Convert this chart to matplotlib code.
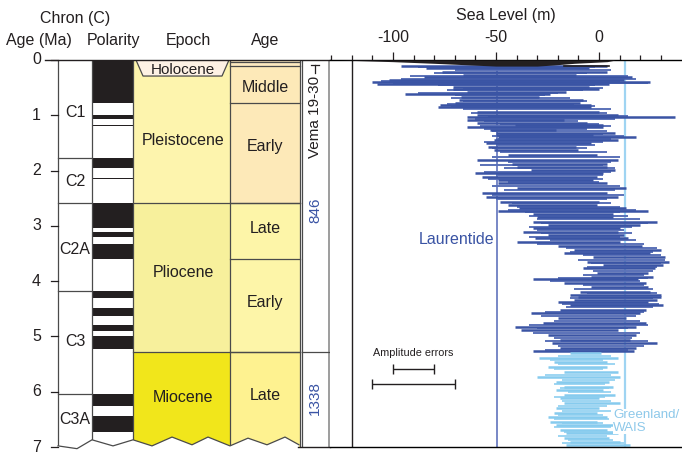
import matplotlib

matplotlib.use("Agg")
import matplotlib.pyplot as plt  # noqa: E402
from matplotlib.ticker import FixedLocator  # noqa: E402

plt.rcParams.update({"font.family": ["Liberation Sans", "DejaVu Sans"],
                     "axes.unicode_minus": False})

W, H = 682, 454
TXT = "#231f20"
LINE = "#4a4a4a"

# ---- geologic time scale -------------------------------------------------
chron_names = ["C1", "C2", "C2A", "C3", "C3A"]
chron_bounds = [1.778, 2.581, 4.187, 6.033]
chron_label_age = [0.95, 2.2, 3.42, 5.1, 6.5]

pol_top = [0.0, 0.988, 1.173, 1.778, 2.128, 2.581, 3.116, 3.330,
           4.187, 4.493, 4.799, 4.997, 6.033, 6.436]
pol_base = [0.781, 1.072, 1.185, 1.945, 2.148, 3.032, 3.207, 3.596,
            4.300, 4.631, 4.896, 5.235, 6.252, 6.733]

epoch_names = ["Pleistocene", "Pliocene", "Miocene"]
epoch_top = [0.0, 2.588, 5.28]
epoch_base = [2.588, 5.28, 7.0]
epoch_colors = ["#fdf4ad", "#f7f09c", "#f1e61b"]
epoch_label_age = [1.45, 3.85, 6.1]

stage_names = ["", "Middle", "Early", "Late", "Early", "Late"]
stage_top = [0.0, 0.1, 0.781, 2.588, 3.6, 5.28]
stage_base = [0.1, 0.781, 2.588, 3.6, 5.28, 7.0]
stage_colors = ["#fdeac0", "#fde9b8", "#fde9b8", "#fdf5a8", "#fdf5a8", "#fef290"]
stage_label_age = [0.0, 0.5, 1.57, 3.04, 4.38, 6.06]

# broken bottom edge of the columns (x in px, age)
zig_x = [58, 77, 92, 113, 133, 152, 172, 192, 208, 230, 248, 267, 285, 299]
zig_age = [6.98, 7.03, 6.87, 6.98, 6.87, 6.98, 6.82, 6.96, 6.82, 6.98, 6.84, 6.96, 6.82, 6.96]

# ---- sea level ranges (m) ------------------------------------------------
laur_age = [0.108, 0.150, 0.212, 0.271, 0.313, 0.362, 0.392, 0.434, 0.483, 0.530,
            0.573, 0.615, 0.664, 0.723, 0.772, 0.814, 0.855, 0.935, 0.995, 1.036,
            1.085, 1.134, 1.175, 1.217, 1.266, 1.315, 1.356, 1.398, 1.447, 1.506,
            1.568, 1.627, 1.718, 1.808, 1.881, 1.929, 1.989, 2.049, 2.121, 2.170,
            2.230, 2.320, 2.400, 2.472, 2.562, 2.622, 2.682, 2.725, 2.785, 2.844,
            2.924, 2.984, 3.043, 3.105, 3.165, 3.224, 3.286, 3.363, 3.436, 3.495,
            3.568, 3.647, 3.707, 3.767, 3.857, 3.919, 3.966, 4.038, 4.100, 4.190,
            4.250, 4.280, 4.340, 4.380, 4.430, 4.521, 4.580, 4.671, 4.761, 4.823,
            4.882, 4.973, 5.063, 5.123, 5.213, 5.262]
laur_lo = [-96, -84, -76, -66, -85, -102, -110, -108, -71, -71,
           -64, -94, -67, -68, -70, -77, -78, -59, -59, -64,
           -64, -59, -41, -64, -53, -50, -50, -49, -51, -55,
           -54, -51, -44, -59, -42, -40, -33, -60, -57, -49,
           -49, -40, -57, -55, -48, -44, -39, -49, -32, -30,
           -32, -25, -32, -37, -25, -31, -40, -20, -12, -17,
           -3, -6, 2, -8, -1, -4, -32, -17, -4, -9,
           -14, -10, -12, -20, -14, -19, -33, -20, -27, -41,
           -38, -25, -19, -23, -19, -32]
laur_hi = [4, -5, 4, -11, 16, 12, 25, 5, -5, 0,
           -16, -24, -29, -8, -9, -4, -4, 0, 9, 37,
           -17, -6, 2, 2, -21, 8, -3, 18, 9, -4,
           -11, -10, -1, 9, 4, 4, 8, 2, -1, -3,
           4, 13, 4, 9, 0, -1, 13, 24, 7, 7,
           28, 20, 10, 9, 12, 14, 10, 21, 30, 25,
           32, 34, 31, 27, 24, 26, 19, 23, 24, 25,
           30, 30, 28, 24, 31, 23, 20, 13, 23, 18,
           9, 18, 15, 28, 18, 17]

# fainter in-between records
laur2_age = [0.13, 0.18, 0.24, 0.29, 0.34, 0.375, 0.41, 0.455, 0.505, 0.55,
             0.595, 0.64, 0.69, 0.745, 0.79, 0.835, 0.895, 0.965, 1.015, 1.06,
             1.11, 1.155, 1.195, 1.24, 1.29, 1.335, 1.375, 1.42, 1.475, 1.535,
             1.60, 1.67, 1.76, 1.845, 1.905, 1.955, 2.02, 2.085, 2.145, 2.20,
             2.275, 2.36, 2.435, 2.515, 2.59, 2.65, 2.705, 2.755, 2.815, 2.885,
             2.955, 3.015, 3.075, 3.135, 3.195, 3.255, 3.325, 3.40, 3.465, 3.53,
             3.61, 3.677, 3.737, 3.81, 3.888, 3.94, 4.0, 4.07, 4.145, 4.22,
             4.31, 4.405, 4.475, 4.55, 4.625, 4.715, 4.79, 4.85, 4.93, 5.02,
             5.09, 5.17, 5.24]
laur2_lo = [-88, -70, -80, -92, -96, -106, -100, -78, -66, -74,
            -88, -70, -72, -66, -74, -72, -66, -62, -54, -60,
            -56, -48, -58, -56, -52, -48, -52, -50, -56, -50,
            -52, -48, -52, -44, -58, -46, -56, -50, -54, -44,
            -52, -46, -52, -50, -42, -40, -44, -36, -34, -30,
            -28, -34, -30, -28, -34, -24, -30, -16, -14, -8,
            -10, -4, -6, -3, -8, -20, -24, -8, -12, -6,
            -14, -18, -16, -26, -28, -22, -34, -30, -32, -22,
            -26, -20, -26]
laur2_hi = [-2, 6, -6, 14, 18, 10, 24, -2, 2, -8,
            -20, -26, -14, -6, -12, -2, 6, 4, 14, 8,
            -10, 0, 6, -6, 4, 2, 12, 6, 2, -2,
            -6, 4, 10, 6, 2, 8, 6, 2, 2, 0,
            10, 8, 12, 4, 6, 10, 18, 10, 14, 20,
            24, 16, 12, 16, 10, 18, 22, 28, 26, 30,
            32, 30, 28, 26, 22, 24, 20, 22, 26, 28,
            26, 29, 26, 22, 18, 20, 24, 14, 20, 16,
            24, 22, 14]

gw_age = [5.304, 5.394, 5.456, 5.546, 5.637, 5.738, 5.817, 5.908, 5.967, 6.058,
          6.118, 6.208, 6.298, 6.389, 6.456, 6.541, 6.600, 6.691, 6.750, 6.841,
          6.903, 6.962]
gw_lo = [-14, -29, -22, -25, -17, -30, -21, -17, -21, -17,
         -19, -17, -21, -22, -25, -24, -21, -19, -16, -17,
         -14, -16]
gw_hi = [1, 9, 4, 4, 9, 10, 5, 7, 2, 8,
         0, 10, 0, -1, 4, -1, 7, 4, 9, 5,
         10, 15]

gw2_age = [5.35, 5.425, 5.50, 5.59, 5.69, 5.78, 5.86, 5.94, 6.01, 6.09,
           6.16, 6.25, 6.345, 6.42, 6.50, 6.57, 6.645, 6.72, 6.80, 6.87,
           6.935]
gw2_lo = [-20, -24, -20, -22, -26, -18, -22, -19, -15, -22,
          -18, -20, -18, -20, -22, -18, -22, -17, -20, -15,
          -18]
gw2_hi = [6, 2, 8, 2, 6, 8, 3, 5, 6, 3,
          6, 4, 6, 2, 5, 2, 6, 8, 4, 7,
          12]

# last glacial cycle, drawn as a black sliver at the top
black_age = [0.0, 0.03, 0.06, 0.09, 0.11]
black_lo = [-126, -100, -80, -62, -50]
black_hi = [8, 4, -12, -22, -30]

ice_lines = [-49.5, 12.5]
err_half = [10, 20]
err_age = [5.59, 5.86]

fig = plt.figure(figsize=(W / 100, H / 100), dpi=100)
bottom = (H - 447) / H
height = (447 - 60) / H


def ftext(x, y, s, **kw):
    fig.text(x / W, 1 - y / H, s, color=TXT, ha="center", va="center", **kw)


# ---- left panel: time scale ---------------------------------------------
ax = fig.add_axes([0, bottom, 330 / W, height])
ax.set_xlim(0, 330)
ax.set_ylim(7, 0)
ax.axis("off")

for t, b, c in zip(epoch_top, epoch_base, epoch_colors):
    ax.fill_between([133, 230], t, b, color=c, lw=0, zorder=1)
for t, b, c in zip(stage_top, stage_base, stage_colors):
    ax.fill_between([230, 300], t, b, color=c, lw=0, zorder=1)
for t, b in zip(pol_top, pol_base):
    ax.fill_between([92, 133], t, b, color="#231f20", lw=0, zorder=1)

for a in chron_bounds:
    ax.plot([58, 92], [a, a], color=LINE, lw=0.9, zorder=2)
for a in epoch_top[1:]:
    ax.plot([133, 300], [a, a], color=LINE, lw=0.9, zorder=2)
for a in stage_top[1:] + [0.03]:
    ax.plot([230, 300], [a, a], color=LINE, lw=0.9, zorder=2)
for x in [58, 92, 133, 230, 300]:
    ax.plot([x, x], [0, 7], color=LINE, lw=0.9, zorder=2)
ax.plot([302, 302], [0, 7], color=LINE, lw=0.9, zorder=2)
ax.plot([329, 329], [0, 7], color="#8c8c8c", lw=1.2, zorder=2)
ax.plot([302, 329], [5.28, 5.28], color=LINE, lw=0.9, zorder=2)

# Holocene box
hx = [136, 143, 222, 229]
hy = [0.0, 0.29, 0.29, 0.0]
ax.fill(hx, hy, color="#fdf1e4", lw=0, zorder=3)
ax.plot(hx, hy, color=LINE, lw=0.9, zorder=3)
ax.text(183, 0.18, "Holocene", ha="center", va="center", color=TXT, fontsize=11, zorder=4)

# broken bottom edge
ax.fill(zig_x + [299, 56], zig_age + [7.3, 7.3], color="white", lw=0, zorder=5)
ax.plot(zig_x, zig_age, color=LINE, lw=0.9, zorder=6, clip_on=False)

ax.plot([45, 330], [0, 0], color=TXT, lw=1.0, zorder=6, clip_on=False)
ax.plot([298, 330], [7, 7], color=TXT, lw=1.0, zorder=6, clip_on=False)
for a in range(8):
    ax.plot([51, 58], [a, a], color=TXT, lw=0.9, clip_on=False)
    ax.text(41, a, str(a), ha="right", va="center", color=TXT, fontsize=11.5)

for name, a in zip(chron_names, chron_label_age):
    ax.text(75, a, name, ha="center", va="center", color=TXT, fontsize=11.5, zorder=4)
for name, a in zip(epoch_names, epoch_label_age):
    ax.text(183, a, name, ha="center", va="center", color=TXT, fontsize=11.5, zorder=4)
for name, a in zip(stage_names, stage_label_age):
    ax.text(265, a, name, ha="center", va="center", color=TXT, fontsize=11.5, zorder=4)

ax.text(315, 1.03, "Vema 19-30", rotation=90, ha="center", va="center", color=TXT, fontsize=11)
ax.plot([315, 315], [0.09, 0.24], color=TXT, lw=0.9)
ax.plot([311, 319], [0.09, 0.09], color=TXT, lw=0.9)
ax.text(315, 2.71, "846", rotation=90, ha="center", va="center", color="#3a54a4", fontsize=11)
ax.text(315, 6.11, "1338", rotation=90, ha="center", va="center", color="#3a54a4", fontsize=11)

# ---- right panel: sea level ---------------------------------------------
sx = fig.add_axes([330 / W, bottom, 352 / W, height])
sx.set_xlim(-130.6, 40.3)
sx.set_ylim(7, 0)
for s in ["left", "right"]:
    sx.spines[s].set_visible(False)
sx.spines["top"].set_linewidth(1.0)
sx.spines["bottom"].set_linewidth(1.0)
sx.xaxis.tick_top()
sx.xaxis.set_major_locator(FixedLocator([-100, -50, 0]))
sx.xaxis.set_minor_locator(FixedLocator(list(range(-130, 40, 10))))
sx.tick_params(axis="x", which="major", length=6, width=0.9, pad=5, labelsize=11.5,
               colors=TXT)
sx.tick_params(axis="x", which="minor", length=3.5, width=0.9, colors=TXT)
sx.set_yticks([])
sx.set_xlabel("Sea Level (m)", fontsize=11.5, color=TXT, labelpad=7)
sx.xaxis.set_label_position("top")

sx.axvline(-120, color=TXT, lw=1.0)
sx.axvline(ice_lines[0], color="#6d7ec2", lw=1.3, zorder=1)
sx.axvline(ice_lines[1], color="#9fd4f2", lw=1.6, zorder=1)

sx.fill_betweenx(black_age, black_lo, black_hi, color="#231f20", lw=0, zorder=3)
sx.plot([-17, 5], [0.11, 0.11], color="#231f20", lw=1.2, zorder=3)
sx.hlines(laur2_age, laur2_lo, laur2_hi, color="#5a71b8", lw=1.4, zorder=2)
sx.hlines(laur_age, laur_lo, laur_hi, color="#3a54a4", lw=1.8, zorder=2)
sx.hlines(gw2_age, gw2_lo, gw2_hi, color="#9dd5f2", lw=1.4, zorder=2)
sx.hlines(gw_age, gw_lo, gw_hi, color="#86cbee", lw=1.8, zorder=2)

sx.text(-51, 3.25, "Laurentide", ha="right", va="center", color="#3a54a4", fontsize=11.5)
sx.text(7, 6.54, "Greenland/\nWAIS", ha="left", va="center", color="#8ec9ea",
        fontsize=9.6, linespacing=1.05, zorder=4,
        bbox=dict(facecolor="white", edgecolor="none", pad=0.5))

sx.text(-90.3, 5.30, "Amplitude errors", ha="center", va="center", color=TXT, fontsize=7.8)
for half, a in zip(err_half, err_age):
    sx.errorbar([-90], [a], xerr=[half], fmt="none", ecolor=TXT, elinewidth=1.0,
                capsize=3.5, capthick=1.0)

# ---- column headers --------------------------------------------------------
ftext(75, 18, "Chron (C)", fontsize=11.5)
ftext(39, 41, "Age (Ma)", fontsize=11.5)
ftext(113, 41, "Polarity", fontsize=11.5)
ftext(188, 41, "Epoch", fontsize=11.5)
ftext(265, 41, "Age", fontsize=11.5)

fig.savefig("out.png", dpi=100)
